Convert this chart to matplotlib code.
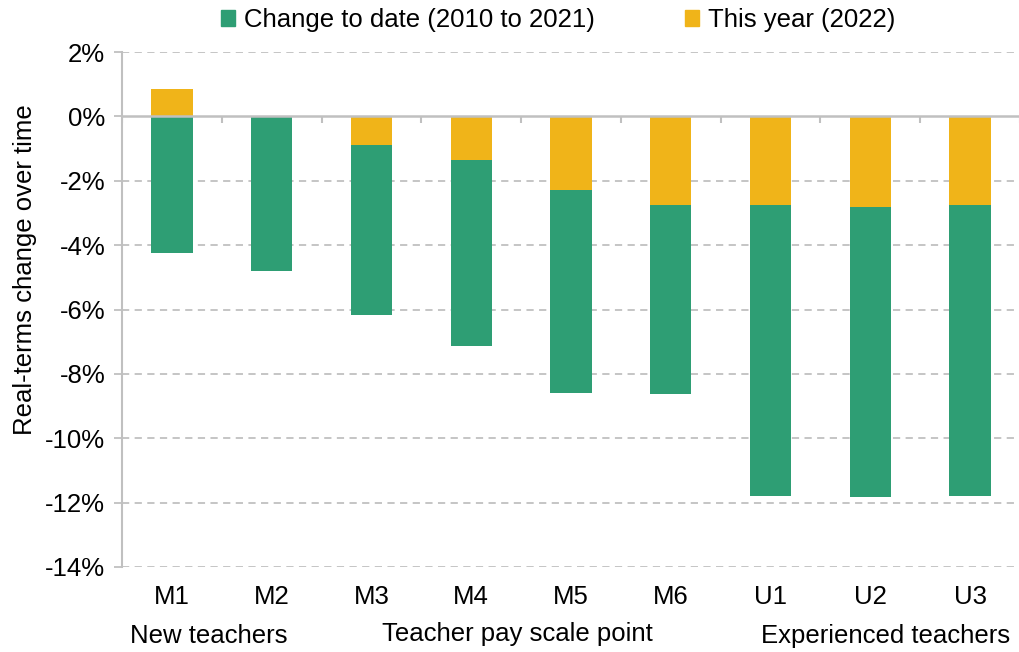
import matplotlib.pyplot as plt
import numpy as np
from matplotlib.patches import Patch

plt.rcParams['font.family'] = ['Liberation Sans', 'DejaVu Sans']

categories = ['M1', 'M2', 'M3', 'M4', 'M5', 'M6', 'U1', 'U2', 'U3']
change_to_date = [-4.26, -4.78, -5.26, -5.76, -6.28, -5.87, -9.05, -9.02, -9.05]  # 2010 to 2021
this_year = [0.84, -0.02, -0.90, -1.37, -2.30, -2.75, -2.75, -2.80, -2.75]  # 2022
yticks = list(range(2, -16, -2))

green = '#2e9e74'
yellow = '#f0b419'
grid_col = '#c0c0c0'
fs = 18.5

fig = plt.figure(figsize=(10.2, 6.52), dpi=100)
ax = fig.add_axes([122 / 1020, 1 - 567 / 652, 898 / 1020, 515 / 652])

x = np.arange(len(categories))
yr = np.array(this_year)
ctd = np.array(change_to_date)
w = 0.415
ax.bar(x, yr, width=w, color=yellow, zorder=3)
ax.bar(x, ctd, bottom=np.minimum(yr, 0), width=w, color=green, zorder=3)

ax.set_xlim(-0.5, len(categories) - 0.5)
ax.set_ylim(-14, 2)
ax.set_yticks(yticks)
ax.set_yticklabels([f'{t}%' for t in yticks], fontsize=fs)
ax.set_xticks(x)
ax.set_xticklabels(categories, fontsize=fs)
ax.tick_params(axis='x', length=0, pad=13)
ax.tick_params(axis='y', length=6, color=grid_col, width=1.3, pad=6)

for s in ['top', 'right', 'bottom']:
    ax.spines[s].set_visible(False)
ax.spines['left'].set_color(grid_col)
ax.spines['left'].set_linewidth(1.5)

for t in yticks:
    if t != 0:
        ax.axhline(t, color=grid_col, lw=1.3, ls=(0, (4, 3)), zorder=1)
ax.axhline(0, color=grid_col, lw=1.8, zorder=4)
ax.vlines(np.arange(-0.5, len(categories)), 0, -0.2, color=grid_col, lw=1.5, zorder=4)

ax.set_ylabel('Real-terms change over time', fontsize=fs, va='center')
ax.yaxis.set_label_coords(-0.108, 0.577)

fig.text(130 / 1020, 1 - 636 / 652, 'New teachers', fontsize=fs, va='center', ha='left')
fig.text(517 / 1020, 1 - 634 / 652, 'Teacher pay scale point', fontsize=fs, va='center', ha='center')
fig.text(1010 / 1020, 1 - 636 / 652, 'Experienced teachers', fontsize=fs, va='center', ha='right')

handles = [Patch(color=green, label='Change to date (2010 to 2021)'),
           Patch(color=yellow, label='This year (2022)')]
fig.legend(handles=handles, loc='center', bbox_to_anchor=(558 / 1020, 1 - 20 / 652), ncol=2,
           frameon=False, fontsize=fs, handlelength=0.55, handleheight=0.55,
           handletextpad=0.35, columnspacing=3.5)

fig.savefig('out.png', dpi=100)
